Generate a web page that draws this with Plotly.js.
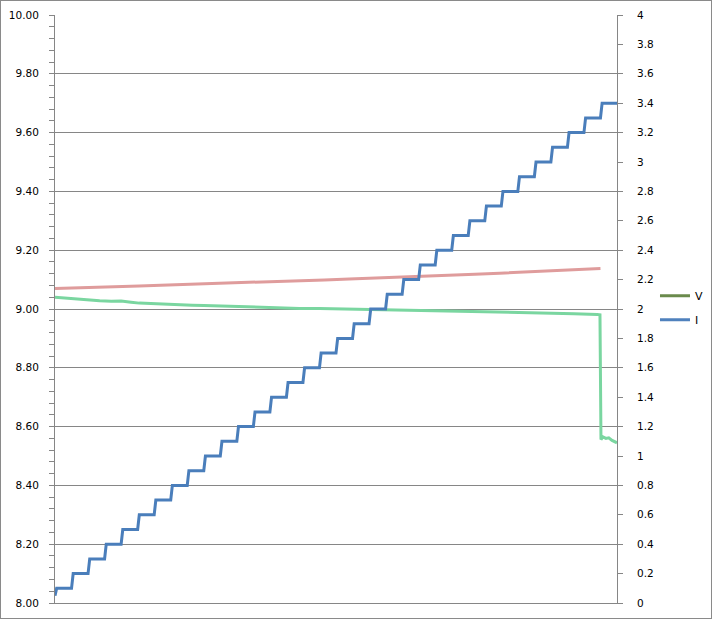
<!DOCTYPE html>
<html>
<head>
<meta charset="utf-8">
<script src="https://cdn.plot.ly/plotly-3.0.1.min.js"></script>
<style>
html,body{margin:0;padding:0;background:#fff;}
#chart{width:712px;height:619px;box-sizing:border-box;border:1px solid #8a8a8a;}
</style>
</head>
<body>
<div id="chart"></div>
<script>
// V (left axis) samples
var vTime = [0, 4, 9, 15, 21, 27, 34, 40, 46, 51, 58, 64, 70, 76, 83, 90, 100, 110, 118, 124, 136, 148, 160, 178, 194, 209, 224, 239, 254, 269, 284, 299, 314, 328, 329.7, 330.3, 331.5, 333.3, 335, 337, 338.5, 340];
var vValues = [9.040, 9.038, 9.035, 9.033, 9.030, 9.028, 9.026, 9.027, 9.023, 9.020, 9.019, 9.017, 9.016, 9.013, 9.013, 9.012, 9.010, 9.009, 9.008, 9.006, 9.004, 9.002, 9.002, 9.000, 8.999, 8.997, 8.995, 8.993, 8.992, 8.990, 8.988, 8.985, 8.984, 8.981, 8.980, 8.556, 8.565, 8.560, 8.562, 8.553, 8.550, 8.545];

// Second voltage trace (left axis, not in legend)
var rTime = [0, 14, 27, 40, 51, 64, 76, 88, 100, 112, 124, 136, 148, 163, 178, 194, 209, 224, 239, 254, 269, 284, 299, 314, 330];
var rValues = [9.070, 9.072, 9.073, 9.076, 9.078, 9.081, 9.083, 9.084, 9.086, 9.089, 9.091, 9.094, 9.096, 9.099, 9.102, 9.105, 9.108, 9.111, 9.114, 9.118, 9.122, 9.126, 9.130, 9.134, 9.138];

// I (right axis) staircase levels
var iStart0 = 0;
var iStartValue = 0.05;
var iStepStart = [1, 11, 21, 31, 41, 51, 61, 71, 81, 91, 101, 111, 121, 131, 141, 151, 161, 171, 181, 191, 201, 211, 221, 231, 241, 251, 261, 271, 281, 291, 301, 311, 321, 331];
var iStepEnd = [10, 20, 30, 40, 50, 60, 70, 80, 90, 100, 110, 120, 130, 140, 150, 160, 170, 180, 190, 200, 210, 220, 230, 240, 250, 260, 270, 280, 290, 300, 310, 320, 330, 340];
var iLevels = [0.1, 0.2, 0.3, 0.4, 0.5, 0.6, 0.7, 0.8, 0.9, 1.0, 1.1, 1.2, 1.3, 1.4, 1.5, 1.6, 1.7, 1.8, 1.9, 2.0, 2.1, 2.2, 2.3, 2.4, 2.5, 2.6, 2.7, 2.8, 2.9, 3.0, 3.1, 3.2, 3.3, 3.4];

var leftTicks = [8.0, 8.2, 8.4, 8.6, 8.8, 9.0, 9.2, 9.4, 9.6, 9.8, 10.0];
var rightTicks = [0, 0.2, 0.4, 0.6, 0.8, 1, 1.2, 1.4, 1.6, 1.8, 2, 2.2, 2.4, 2.6, 2.8, 3, 3.2, 3.4, 3.6, 3.8, 4];

var iX = [iStart0], iY = [iStartValue];
for (var k = 0; k < iLevels.length; k++) {
  iX.push(iStepStart[k]); iY.push(iLevels[k]);
  iX.push(iStepEnd[k]); iY.push(iLevels[k]);
}

var grey = '#868686';
var traces = [
  {x: rTime, y: rValues, type: 'scatter', mode: 'lines', yaxis: 'y', showlegend: false,
   line: {color: '#df9c9c', width: 3}, hoverinfo: 'skip'},
  {x: vTime, y: vValues, type: 'scatter', mode: 'lines', yaxis: 'y', showlegend: false,
   line: {color: '#7ad6a0', width: 3}, hoverinfo: 'skip'},
  {x: iX, y: iY, type: 'scatter', mode: 'lines', yaxis: 'y2', showlegend: false,
   line: {color: '#4a7ebb', width: 3}, hoverinfo: 'skip'},
  {x: [null], y: [null], type: 'scatter', mode: 'lines', name: 'V', legendgroup: 'v',
   line: {color: '#6a8a4c', width: 3}},
  {x: [null], y: [null], type: 'scatter', mode: 'lines', name: 'I', legendgroup: 'i', yaxis: 'y2',
   line: {color: '#4f81bd', width: 3}}
];

var layout = {
  width: 710, height: 617,
  margin: {l: 54, r: 94, t: 14, b: 15, autoexpand: false},
  paper_bgcolor: '#fff', plot_bgcolor: '#fff',
  font: {family: 'DejaVu Sans, Verdana, sans-serif', size: 10.5, color: '#000'},
  xaxis: {range: [0, 340], showgrid: false, zeroline: false, showticklabels: false, ticks: '',
          showline: true, linecolor: grey, linewidth: 1},
  yaxis: {range: [8, 10], tickvals: leftTicks, ticktext: leftTicks.map(function(v){return v.toFixed(2);}),
          showgrid: true, gridcolor: grey, gridwidth: 1, zeroline: false,
          showline: true, linecolor: grey, linewidth: 1,
          ticks: '', ticklabelstandoff: 13,
          minor: {dtick: 0.04, tick0: 8, ticks: 'outside', ticklen: 5, tickcolor: grey, showgrid: false}},
  yaxis2: {range: [0, 4], overlaying: 'y', side: 'right', tickvals: rightTicks,
           ticktext: rightTicks.map(function(v){return String(Math.round(v*10)/10);}),
           showgrid: false, zeroline: false, showline: true, linecolor: grey, linewidth: 1,
           ticks: 'outside', ticklen: 5, tickcolor: grey, ticklabelstandoff: 12},
  legend: {x: 1.0676, xanchor: 'left', y: 0.502, yanchor: 'middle', traceorder: 'grouped',
           tracegroupgap: 5, bgcolor: 'rgba(0,0,0,0)', font: {size: 11, color: '#000'}},
  showlegend: true
};

Plotly.newPlot('chart', traces, layout, {staticPlot: true, displayModeBar: false});
</script>
</body>
</html>
